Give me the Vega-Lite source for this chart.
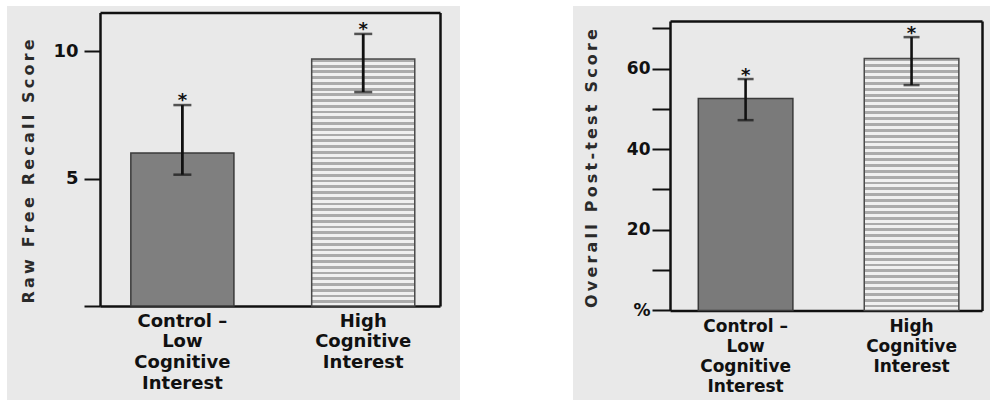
{
  "$schema": "https://vega.github.io/schema/vega-lite/v6.json",
  "padding": {"left": 7, "top": 6, "right": 0, "bottom": 0},
  "background": "white",
  "spacing": 113,
  "config": {
    "view": {"stroke": null, "fill": "#e9e9e9"},
    "axis": {"labelFont": "DejaVu Sans", "labelFontWeight": "bold", "labelColor": "#111", "domainColor": "#111", "tickColor": "#111", "grid": false, "titleFont": "DejaVu Sans", "titleFontWeight": "bold", "titleColor": "#2a2a2a", "labelOverlap": false, "labelLimit": 0}
  },
  "hconcat": [
    {
      "width": 453,
      "height": 394,
      "data": {"values": [
        {"group": "Control –\nLow\nCognitive\nInterest", "cond": "control", "mean": 6.0, "lo": 5.15, "hi": 7.88},
        {"group": "High\nCognitive\nInterest", "cond": "high", "mean": 9.69, "lo": 8.39, "hi": 10.67}
      ]},
      "resolve": {"axis": {"x": "independent", "y": "independent"}},
      "layer": [
        {
          "transform": [{"filter": "datum.cond == 'control'"}],
          "mark": {"type": "bar", "fill": "#7f7f7f", "stroke": "#3a3a3a", "strokeWidth": 1.5},
          "encoding": {
            "x": {"field": "group", "type": "nominal", "sort": null,
              "scale": {"domain": ["Control –\nLow\nCognitive\nInterest", "High\nCognitive\nInterest"], "range": [93, 433], "paddingInner": 0.43, "paddingOuter": 0.155, "align": 0.55},
              "axis": {"orient": "bottom", "offset": -94, "title": null, "ticks": false, "domainWidth": 2.5, "labelAngle": 0, "labelExpr": "split(datum.label, '\\n')", "labelFontSize": 18, "labelLineHeight": 20.7, "labelPadding": 6, "labelBaseline": "top"}},
            "y": {"field": "mean", "type": "quantitative",
              "scale": {"domain": [0, 11.51], "range": [300, 6.5], "nice": false, "zero": false},
              "axis": {"orient": "left", "offset": -93, "values": [0, 5, 10], "labelExpr": "datum.value == 0 ? '' : datum.label", "tickSize": 16, "tickWidth": 2, "domainWidth": 2.5, "labelFontSize": 18, "labelPadding": 6,
                "title": "R\u2009a\u2009w\u2009 \u2009F\u2009r\u2009e\u2009e\u2009 \u2009R\u2009e\u2009c\u2009a\u2009l\u2009l\u2009 \u2009S\u2009c\u2009o\u2009r\u2009e",
                "titleFontSize": 16, "titleAngle": -90, "titleX": -72, "titleY": 165, "titleAlign": "center", "titleBaseline": "middle"}}
          }
        },
        {
          "transform": [{"filter": "datum.cond == 'high'"}],
          "mark": {"type": "bar", "stroke": "#4a4a4a", "strokeWidth": 1.5,
            "fill": {"gradient": "linear", "x1": 0, "y1": 0, "x2": 0, "y2": 1, "stops": [
              {"offset": 0, "color": "#ababab"},
              {"offset": 0.0116, "color": "#ababab"}, {"offset": 0.0116, "color": "#f0f0f0"},
              {"offset": 0.0233, "color": "#f0f0f0"}, {"offset": 0.0233, "color": "#ababab"},
              {"offset": 0.0349, "color": "#ababab"}, {"offset": 0.0349, "color": "#f0f0f0"},
              {"offset": 0.0465, "color": "#f0f0f0"}, {"offset": 0.0465, "color": "#ababab"},
              {"offset": 0.0581, "color": "#ababab"}, {"offset": 0.0581, "color": "#f0f0f0"},
              {"offset": 0.0698, "color": "#f0f0f0"}, {"offset": 0.0698, "color": "#ababab"},
              {"offset": 0.0814, "color": "#ababab"}, {"offset": 0.0814, "color": "#f0f0f0"},
              {"offset": 0.0930, "color": "#f0f0f0"}, {"offset": 0.0930, "color": "#ababab"},
              {"offset": 0.1047, "color": "#ababab"}, {"offset": 0.1047, "color": "#f0f0f0"},
              {"offset": 0.1163, "color": "#f0f0f0"}, {"offset": 0.1163, "color": "#ababab"},
              {"offset": 0.1279, "color": "#ababab"}, {"offset": 0.1279, "color": "#f0f0f0"},
              {"offset": 0.1395, "color": "#f0f0f0"}, {"offset": 0.1395, "color": "#ababab"},
              {"offset": 0.1512, "color": "#ababab"}, {"offset": 0.1512, "color": "#f0f0f0"},
              {"offset": 0.1628, "color": "#f0f0f0"}, {"offset": 0.1628, "color": "#ababab"},
              {"offset": 0.1744, "color": "#ababab"}, {"offset": 0.1744, "color": "#f0f0f0"},
              {"offset": 0.1860, "color": "#f0f0f0"}, {"offset": 0.1860, "color": "#ababab"},
              {"offset": 0.1977, "color": "#ababab"}, {"offset": 0.1977, "color": "#f0f0f0"},
              {"offset": 0.2093, "color": "#f0f0f0"}, {"offset": 0.2093, "color": "#ababab"},
              {"offset": 0.2209, "color": "#ababab"}, {"offset": 0.2209, "color": "#f0f0f0"},
              {"offset": 0.2326, "color": "#f0f0f0"}, {"offset": 0.2326, "color": "#ababab"},
              {"offset": 0.2442, "color": "#ababab"}, {"offset": 0.2442, "color": "#f0f0f0"},
              {"offset": 0.2558, "color": "#f0f0f0"}, {"offset": 0.2558, "color": "#ababab"},
              {"offset": 0.2674, "color": "#ababab"}, {"offset": 0.2674, "color": "#f0f0f0"},
              {"offset": 0.2791, "color": "#f0f0f0"}, {"offset": 0.2791, "color": "#ababab"},
              {"offset": 0.2907, "color": "#ababab"}, {"offset": 0.2907, "color": "#f0f0f0"},
              {"offset": 0.3023, "color": "#f0f0f0"}, {"offset": 0.3023, "color": "#ababab"},
              {"offset": 0.3140, "color": "#ababab"}, {"offset": 0.3140, "color": "#f0f0f0"},
              {"offset": 0.3256, "color": "#f0f0f0"}, {"offset": 0.3256, "color": "#ababab"},
              {"offset": 0.3372, "color": "#ababab"}, {"offset": 0.3372, "color": "#f0f0f0"},
              {"offset": 0.3488, "color": "#f0f0f0"}, {"offset": 0.3488, "color": "#ababab"},
              {"offset": 0.3605, "color": "#ababab"}, {"offset": 0.3605, "color": "#f0f0f0"},
              {"offset": 0.3721, "color": "#f0f0f0"}, {"offset": 0.3721, "color": "#ababab"},
              {"offset": 0.3837, "color": "#ababab"}, {"offset": 0.3837, "color": "#f0f0f0"},
              {"offset": 0.3953, "color": "#f0f0f0"}, {"offset": 0.3953, "color": "#ababab"},
              {"offset": 0.4070, "color": "#ababab"}, {"offset": 0.4070, "color": "#f0f0f0"},
              {"offset": 0.4186, "color": "#f0f0f0"}, {"offset": 0.4186, "color": "#ababab"},
              {"offset": 0.4302, "color": "#ababab"}, {"offset": 0.4302, "color": "#f0f0f0"},
              {"offset": 0.4419, "color": "#f0f0f0"}, {"offset": 0.4419, "color": "#ababab"},
              {"offset": 0.4535, "color": "#ababab"}, {"offset": 0.4535, "color": "#f0f0f0"},
              {"offset": 0.4651, "color": "#f0f0f0"}, {"offset": 0.4651, "color": "#ababab"},
              {"offset": 0.4767, "color": "#ababab"}, {"offset": 0.4767, "color": "#f0f0f0"},
              {"offset": 0.4884, "color": "#f0f0f0"}, {"offset": 0.4884, "color": "#ababab"},
              {"offset": 0.5000, "color": "#ababab"}, {"offset": 0.5000, "color": "#f0f0f0"},
              {"offset": 0.5116, "color": "#f0f0f0"}, {"offset": 0.5116, "color": "#ababab"},
              {"offset": 0.5233, "color": "#ababab"}, {"offset": 0.5233, "color": "#f0f0f0"},
              {"offset": 0.5349, "color": "#f0f0f0"}, {"offset": 0.5349, "color": "#ababab"},
              {"offset": 0.5465, "color": "#ababab"}, {"offset": 0.5465, "color": "#f0f0f0"},
              {"offset": 0.5581, "color": "#f0f0f0"}, {"offset": 0.5581, "color": "#ababab"},
              {"offset": 0.5698, "color": "#ababab"}, {"offset": 0.5698, "color": "#f0f0f0"},
              {"offset": 0.5814, "color": "#f0f0f0"}, {"offset": 0.5814, "color": "#ababab"},
              {"offset": 0.5930, "color": "#ababab"}, {"offset": 0.5930, "color": "#f0f0f0"},
              {"offset": 0.6047, "color": "#f0f0f0"}, {"offset": 0.6047, "color": "#ababab"},
              {"offset": 0.6163, "color": "#ababab"}, {"offset": 0.6163, "color": "#f0f0f0"},
              {"offset": 0.6279, "color": "#f0f0f0"}, {"offset": 0.6279, "color": "#ababab"},
              {"offset": 0.6395, "color": "#ababab"}, {"offset": 0.6395, "color": "#f0f0f0"},
              {"offset": 0.6512, "color": "#f0f0f0"}, {"offset": 0.6512, "color": "#ababab"},
              {"offset": 0.6628, "color": "#ababab"}, {"offset": 0.6628, "color": "#f0f0f0"},
              {"offset": 0.6744, "color": "#f0f0f0"}, {"offset": 0.6744, "color": "#ababab"},
              {"offset": 0.6860, "color": "#ababab"}, {"offset": 0.6860, "color": "#f0f0f0"},
              {"offset": 0.6977, "color": "#f0f0f0"}, {"offset": 0.6977, "color": "#ababab"},
              {"offset": 0.7093, "color": "#ababab"}, {"offset": 0.7093, "color": "#f0f0f0"},
              {"offset": 0.7209, "color": "#f0f0f0"}, {"offset": 0.7209, "color": "#ababab"},
              {"offset": 0.7326, "color": "#ababab"}, {"offset": 0.7326, "color": "#f0f0f0"},
              {"offset": 0.7442, "color": "#f0f0f0"}, {"offset": 0.7442, "color": "#ababab"},
              {"offset": 0.7558, "color": "#ababab"}, {"offset": 0.7558, "color": "#f0f0f0"},
              {"offset": 0.7674, "color": "#f0f0f0"}, {"offset": 0.7674, "color": "#ababab"},
              {"offset": 0.7791, "color": "#ababab"}, {"offset": 0.7791, "color": "#f0f0f0"},
              {"offset": 0.7907, "color": "#f0f0f0"}, {"offset": 0.7907, "color": "#ababab"},
              {"offset": 0.8023, "color": "#ababab"}, {"offset": 0.8023, "color": "#f0f0f0"},
              {"offset": 0.8140, "color": "#f0f0f0"}, {"offset": 0.8140, "color": "#ababab"},
              {"offset": 0.8256, "color": "#ababab"}, {"offset": 0.8256, "color": "#f0f0f0"},
              {"offset": 0.8372, "color": "#f0f0f0"}, {"offset": 0.8372, "color": "#ababab"},
              {"offset": 0.8488, "color": "#ababab"}, {"offset": 0.8488, "color": "#f0f0f0"},
              {"offset": 0.8605, "color": "#f0f0f0"}, {"offset": 0.8605, "color": "#ababab"},
              {"offset": 0.8721, "color": "#ababab"}, {"offset": 0.8721, "color": "#f0f0f0"},
              {"offset": 0.8837, "color": "#f0f0f0"}, {"offset": 0.8837, "color": "#ababab"},
              {"offset": 0.8953, "color": "#ababab"}, {"offset": 0.8953, "color": "#f0f0f0"},
              {"offset": 0.9070, "color": "#f0f0f0"}, {"offset": 0.9070, "color": "#ababab"},
              {"offset": 0.9186, "color": "#ababab"}, {"offset": 0.9186, "color": "#f0f0f0"},
              {"offset": 0.9302, "color": "#f0f0f0"}, {"offset": 0.9302, "color": "#ababab"},
              {"offset": 0.9419, "color": "#ababab"}, {"offset": 0.9419, "color": "#f0f0f0"},
              {"offset": 0.9535, "color": "#f0f0f0"}, {"offset": 0.9535, "color": "#ababab"},
              {"offset": 0.9651, "color": "#ababab"}, {"offset": 0.9651, "color": "#f0f0f0"},
              {"offset": 0.9767, "color": "#f0f0f0"}, {"offset": 0.9767, "color": "#ababab"},
              {"offset": 0.9884, "color": "#ababab"}, {"offset": 0.9884, "color": "#f0f0f0"},
              {"offset": 1, "color": "#f0f0f0"}
            ]}},
          "encoding": {
            "x": {"field": "group", "type": "nominal", "sort": null, "axis": null},
            "y": {"field": "mean", "type": "quantitative", "axis": null}
          }
        },
        {
          "mark": {"type": "rule", "color": "#111", "strokeWidth": 2.8},
          "encoding": {
            "x": {"field": "group", "type": "nominal", "sort": null, "axis": null},
            "y": {"field": "lo", "type": "quantitative", "axis": null},
            "y2": {"field": "hi"}
          }
        },
        {
          "mark": {"type": "tick", "color": "#111", "size": 18, "thickness": 2.5},
          "encoding": {
            "x": {"field": "group", "type": "nominal", "sort": null, "axis": null},
            "y": {"field": "lo", "type": "quantitative", "axis": null}
          }
        },
        {
          "mark": {"type": "tick", "color": "#111", "size": 18, "thickness": 2.5},
          "encoding": {
            "x": {"field": "group", "type": "nominal", "sort": null, "axis": null},
            "y": {"field": "hi", "type": "quantitative", "axis": null}
          }
        },
        {
          "mark": {"type": "text", "text": "*", "font": "DejaVu Sans", "fontWeight": "bold", "fontSize": 18, "color": "#111", "baseline": "alphabetic", "dy": 1},
          "encoding": {
            "x": {"field": "group", "type": "nominal", "sort": null,
              "axis": {"orient": "top", "offset": -6.5, "title": null, "labels": false, "ticks": false, "domainWidth": 2.5}},
            "y": {"field": "hi", "type": "quantitative",
              "axis": {"orient": "right", "offset": -20, "title": null, "labels": false, "ticks": false, "domainWidth": 2.5}}
          }
        }
      ]
    },
    {
      "width": 417,
      "height": 394,
      "data": {"values": [
        {"group": "Control –\nLow\nCognitive\nInterest", "cond": "control", "mean": 52.6, "lo": 47.2, "hi": 57.4},
        {"group": "High\nCognitive\nInterest", "cond": "high", "mean": 62.5, "lo": 55.9, "hi": 67.8}
      ]},
      "resolve": {"axis": {"x": "independent", "y": "independent"}},
      "layer": [
        {
          "transform": [{"filter": "datum.cond == 'control'"}],
          "mark": {"type": "bar", "fill": "#7a7a7a", "stroke": "#3a3a3a", "strokeWidth": 1.5},
          "encoding": {
            "x": {"field": "group", "type": "nominal", "sort": null,
              "scale": {"domain": ["Control –\nLow\nCognitive\nInterest", "High\nCognitive\nInterest"], "range": [97, 409], "paddingInner": 0.43, "paddingOuter": 0.155, "align": 0.55},
              "axis": {"orient": "bottom", "offset": -89.6, "title": null, "ticks": false, "domainWidth": 2.5, "labelAngle": 0, "labelExpr": "split(datum.label, '\\n')", "labelFontSize": 17, "labelLineHeight": 20.2, "labelPadding": 8, "labelBaseline": "top"}},
            "y": {"field": "mean", "type": "quantitative",
              "scale": {"domain": [0, 71.8], "range": [304.4, 15], "nice": false, "zero": false},
              "axis": {"orient": "left", "offset": -97, "values": [0, 10, 20, 30, 40, 50, 60, 70], "labelExpr": "datum.value == 0 ? '%' : (datum.value % 20 == 0 ? datum.label : '')", "tickSize": 18, "tickWidth": 2, "domainWidth": 2.5, "labelFontSize": 17, "labelPadding": 2,
                "title": "O\u2009v\u2009e\u2009r\u2009a\u2009l\u2009l\u2009 \u2009P\u2009o\u2009s\u2009t\u2009-\u2009t\u2009e\u2009s\u2009t\u2009 \u2009S\u2009c\u2009o\u2009r\u2009e",
                "titleFontSize": 16, "titleAngle": -90, "titleX": -78.3, "titleY": 162, "titleAlign": "center", "titleBaseline": "middle"}}
          }
        },
        {
          "transform": [{"filter": "datum.cond == 'high'"}],
          "mark": {"type": "bar", "stroke": "#4a4a4a", "strokeWidth": 1.5,
            "fill": {"gradient": "linear", "x1": 0, "y1": 0, "x2": 0, "y2": 1, "stops": [
              {"offset": 0, "color": "#ababab"},
              {"offset": 0.0116, "color": "#ababab"}, {"offset": 0.0116, "color": "#f0f0f0"},
              {"offset": 0.0233, "color": "#f0f0f0"}, {"offset": 0.0233, "color": "#ababab"},
              {"offset": 0.0349, "color": "#ababab"}, {"offset": 0.0349, "color": "#f0f0f0"},
              {"offset": 0.0465, "color": "#f0f0f0"}, {"offset": 0.0465, "color": "#ababab"},
              {"offset": 0.0581, "color": "#ababab"}, {"offset": 0.0581, "color": "#f0f0f0"},
              {"offset": 0.0698, "color": "#f0f0f0"}, {"offset": 0.0698, "color": "#ababab"},
              {"offset": 0.0814, "color": "#ababab"}, {"offset": 0.0814, "color": "#f0f0f0"},
              {"offset": 0.0930, "color": "#f0f0f0"}, {"offset": 0.0930, "color": "#ababab"},
              {"offset": 0.1047, "color": "#ababab"}, {"offset": 0.1047, "color": "#f0f0f0"},
              {"offset": 0.1163, "color": "#f0f0f0"}, {"offset": 0.1163, "color": "#ababab"},
              {"offset": 0.1279, "color": "#ababab"}, {"offset": 0.1279, "color": "#f0f0f0"},
              {"offset": 0.1395, "color": "#f0f0f0"}, {"offset": 0.1395, "color": "#ababab"},
              {"offset": 0.1512, "color": "#ababab"}, {"offset": 0.1512, "color": "#f0f0f0"},
              {"offset": 0.1628, "color": "#f0f0f0"}, {"offset": 0.1628, "color": "#ababab"},
              {"offset": 0.1744, "color": "#ababab"}, {"offset": 0.1744, "color": "#f0f0f0"},
              {"offset": 0.1860, "color": "#f0f0f0"}, {"offset": 0.1860, "color": "#ababab"},
              {"offset": 0.1977, "color": "#ababab"}, {"offset": 0.1977, "color": "#f0f0f0"},
              {"offset": 0.2093, "color": "#f0f0f0"}, {"offset": 0.2093, "color": "#ababab"},
              {"offset": 0.2209, "color": "#ababab"}, {"offset": 0.2209, "color": "#f0f0f0"},
              {"offset": 0.2326, "color": "#f0f0f0"}, {"offset": 0.2326, "color": "#ababab"},
              {"offset": 0.2442, "color": "#ababab"}, {"offset": 0.2442, "color": "#f0f0f0"},
              {"offset": 0.2558, "color": "#f0f0f0"}, {"offset": 0.2558, "color": "#ababab"},
              {"offset": 0.2674, "color": "#ababab"}, {"offset": 0.2674, "color": "#f0f0f0"},
              {"offset": 0.2791, "color": "#f0f0f0"}, {"offset": 0.2791, "color": "#ababab"},
              {"offset": 0.2907, "color": "#ababab"}, {"offset": 0.2907, "color": "#f0f0f0"},
              {"offset": 0.3023, "color": "#f0f0f0"}, {"offset": 0.3023, "color": "#ababab"},
              {"offset": 0.3140, "color": "#ababab"}, {"offset": 0.3140, "color": "#f0f0f0"},
              {"offset": 0.3256, "color": "#f0f0f0"}, {"offset": 0.3256, "color": "#ababab"},
              {"offset": 0.3372, "color": "#ababab"}, {"offset": 0.3372, "color": "#f0f0f0"},
              {"offset": 0.3488, "color": "#f0f0f0"}, {"offset": 0.3488, "color": "#ababab"},
              {"offset": 0.3605, "color": "#ababab"}, {"offset": 0.3605, "color": "#f0f0f0"},
              {"offset": 0.3721, "color": "#f0f0f0"}, {"offset": 0.3721, "color": "#ababab"},
              {"offset": 0.3837, "color": "#ababab"}, {"offset": 0.3837, "color": "#f0f0f0"},
              {"offset": 0.3953, "color": "#f0f0f0"}, {"offset": 0.3953, "color": "#ababab"},
              {"offset": 0.4070, "color": "#ababab"}, {"offset": 0.4070, "color": "#f0f0f0"},
              {"offset": 0.4186, "color": "#f0f0f0"}, {"offset": 0.4186, "color": "#ababab"},
              {"offset": 0.4302, "color": "#ababab"}, {"offset": 0.4302, "color": "#f0f0f0"},
              {"offset": 0.4419, "color": "#f0f0f0"}, {"offset": 0.4419, "color": "#ababab"},
              {"offset": 0.4535, "color": "#ababab"}, {"offset": 0.4535, "color": "#f0f0f0"},
              {"offset": 0.4651, "color": "#f0f0f0"}, {"offset": 0.4651, "color": "#ababab"},
              {"offset": 0.4767, "color": "#ababab"}, {"offset": 0.4767, "color": "#f0f0f0"},
              {"offset": 0.4884, "color": "#f0f0f0"}, {"offset": 0.4884, "color": "#ababab"},
              {"offset": 0.5000, "color": "#ababab"}, {"offset": 0.5000, "color": "#f0f0f0"},
              {"offset": 0.5116, "color": "#f0f0f0"}, {"offset": 0.5116, "color": "#ababab"},
              {"offset": 0.5233, "color": "#ababab"}, {"offset": 0.5233, "color": "#f0f0f0"},
              {"offset": 0.5349, "color": "#f0f0f0"}, {"offset": 0.5349, "color": "#ababab"},
              {"offset": 0.5465, "color": "#ababab"}, {"offset": 0.5465, "color": "#f0f0f0"},
              {"offset": 0.5581, "color": "#f0f0f0"}, {"offset": 0.5581, "color": "#ababab"},
              {"offset": 0.5698, "color": "#ababab"}, {"offset": 0.5698, "color": "#f0f0f0"},
              {"offset": 0.5814, "color": "#f0f0f0"}, {"offset": 0.5814, "color": "#ababab"},
              {"offset": 0.5930, "color": "#ababab"}, {"offset": 0.5930, "color": "#f0f0f0"},
              {"offset": 0.6047, "color": "#f0f0f0"}, {"offset": 0.6047, "color": "#ababab"},
              {"offset": 0.6163, "color": "#ababab"}, {"offset": 0.6163, "color": "#f0f0f0"},
              {"offset": 0.6279, "color": "#f0f0f0"}, {"offset": 0.6279, "color": "#ababab"},
              {"offset": 0.6395, "color": "#ababab"}, {"offset": 0.6395, "color": "#f0f0f0"},
              {"offset": 0.6512, "color": "#f0f0f0"}, {"offset": 0.6512, "color": "#ababab"},
              {"offset": 0.6628, "color": "#ababab"}, {"offset": 0.6628, "color": "#f0f0f0"},
              {"offset": 0.6744, "color": "#f0f0f0"}, {"offset": 0.6744, "color": "#ababab"},
              {"offset": 0.6860, "color": "#ababab"}, {"offset": 0.6860, "color": "#f0f0f0"},
              {"offset": 0.6977, "color": "#f0f0f0"}, {"offset": 0.6977, "color": "#ababab"},
              {"offset": 0.7093, "color": "#ababab"}, {"offset": 0.7093, "color": "#f0f0f0"},
              {"offset": 0.7209, "color": "#f0f0f0"}, {"offset": 0.7209, "color": "#ababab"},
              {"offset": 0.7326, "color": "#ababab"}, {"offset": 0.7326, "color": "#f0f0f0"},
              {"offset": 0.7442, "color": "#f0f0f0"}, {"offset": 0.7442, "color": "#ababab"},
              {"offset": 0.7558, "color": "#ababab"}, {"offset": 0.7558, "color": "#f0f0f0"},
              {"offset": 0.7674, "color": "#f0f0f0"}, {"offset": 0.7674, "color": "#ababab"},
              {"offset": 0.7791, "color": "#ababab"}, {"offset": 0.7791, "color": "#f0f0f0"},
              {"offset": 0.7907, "color": "#f0f0f0"}, {"offset": 0.7907, "color": "#ababab"},
              {"offset": 0.8023, "color": "#ababab"}, {"offset": 0.8023, "color": "#f0f0f0"},
              {"offset": 0.8140, "color": "#f0f0f0"}, {"offset": 0.8140, "color": "#ababab"},
              {"offset": 0.8256, "color": "#ababab"}, {"offset": 0.8256, "color": "#f0f0f0"},
              {"offset": 0.8372, "color": "#f0f0f0"}, {"offset": 0.8372, "color": "#ababab"},
              {"offset": 0.8488, "color": "#ababab"}, {"offset": 0.8488, "color": "#f0f0f0"},
              {"offset": 0.8605, "color": "#f0f0f0"}, {"offset": 0.8605, "color": "#ababab"},
              {"offset": 0.8721, "color": "#ababab"}, {"offset": 0.8721, "color": "#f0f0f0"},
              {"offset": 0.8837, "color": "#f0f0f0"}, {"offset": 0.8837, "color": "#ababab"},
              {"offset": 0.8953, "color": "#ababab"}, {"offset": 0.8953, "color": "#f0f0f0"},
              {"offset": 0.9070, "color": "#f0f0f0"}, {"offset": 0.9070, "color": "#ababab"},
              {"offset": 0.9186, "color": "#ababab"}, {"offset": 0.9186, "color": "#f0f0f0"},
              {"offset": 0.9302, "color": "#f0f0f0"}, {"offset": 0.9302, "color": "#ababab"},
              {"offset": 0.9419, "color": "#ababab"}, {"offset": 0.9419, "color": "#f0f0f0"},
              {"offset": 0.9535, "color": "#f0f0f0"}, {"offset": 0.9535, "color": "#ababab"},
              {"offset": 0.9651, "color": "#ababab"}, {"offset": 0.9651, "color": "#f0f0f0"},
              {"offset": 0.9767, "color": "#f0f0f0"}, {"offset": 0.9767, "color": "#ababab"},
              {"offset": 0.9884, "color": "#ababab"}, {"offset": 0.9884, "color": "#f0f0f0"},
              {"offset": 1, "color": "#f0f0f0"}
            ]}},
          "encoding": {
            "x": {"field": "group", "type": "nominal", "sort": null, "axis": null},
            "y": {"field": "mean", "type": "quantitative", "axis": null}
          }
        },
        {
          "mark": {"type": "rule", "color": "#111", "strokeWidth": 2.6},
          "encoding": {
            "x": {"field": "group", "type": "nominal", "sort": null, "axis": null},
            "y": {"field": "lo", "type": "quantitative", "axis": null},
            "y2": {"field": "hi"}
          }
        },
        {
          "mark": {"type": "tick", "color": "#111", "size": 16, "thickness": 2.5},
          "encoding": {
            "x": {"field": "group", "type": "nominal", "sort": null, "axis": null},
            "y": {"field": "lo", "type": "quantitative", "axis": null}
          }
        },
        {
          "mark": {"type": "tick", "color": "#111", "size": 16, "thickness": 2.5},
          "encoding": {
            "x": {"field": "group", "type": "nominal", "sort": null, "axis": null},
            "y": {"field": "hi", "type": "quantitative", "axis": null}
          }
        },
        {
          "mark": {"type": "text", "text": "*", "font": "DejaVu Sans", "fontWeight": "bold", "fontSize": 18, "color": "#111", "baseline": "alphabetic", "dy": 1.5},
          "encoding": {
            "x": {"field": "group", "type": "nominal", "sort": null,
              "axis": {"orient": "top", "offset": -15, "title": null, "labels": false, "ticks": false, "domainWidth": 2.5}},
            "y": {"field": "hi", "type": "quantitative",
              "axis": {"orient": "right", "offset": -8, "title": null, "labels": false, "ticks": false, "domainWidth": 2.5}}
          }
        }
      ]
    }
  ]
}
